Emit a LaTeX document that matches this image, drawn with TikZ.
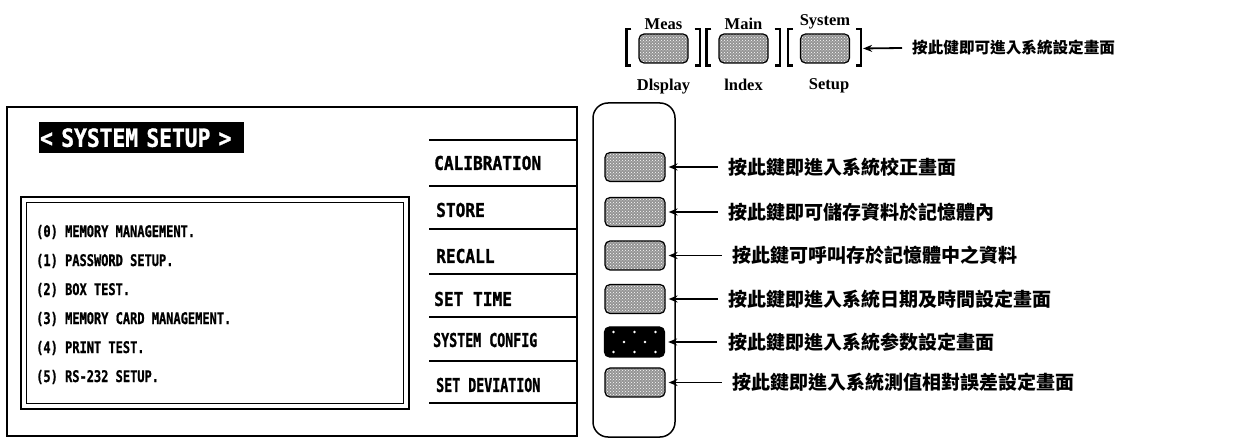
\documentclass[tikz,border=0pt]{standalone}
\usepackage{fontspec}
\setmainfont{Liberation Serif}
\newfontfamily\cjkfont{Noto Sans CJK TC}
\newfontfamily\lcdfont{DejaVu Sans Mono}[FakeStretch=0.85, FakeBold=1.2]
\newfontfamily\lcdnarrow{DejaVu Sans Mono}[FakeStretch=0.7, FakeBold=1.2]
\newfontfamily\lcdsmall{DejaVu Sans Mono}[FakeStretch=0.75, FakeBold=1]
\usetikzlibrary{positioning, arrows.meta, patterns}

\begin{document}
\begin{tikzpicture}[x=1pt, y=-1pt,
    key/.style={draw, line width=1.2pt, rounded corners=5pt,
                minimum width=60pt, minimum height=29pt, inner sep=0pt,
                preaction={fill=black!42}, pattern=crosshatch dots,
                pattern color=white},
    topkey/.style={key, minimum width=49pt},
    blackkey/.style={draw, line width=1.2pt, rounded corners=5pt,
                minimum width=60pt, minimum height=30pt, inner sep=0pt,
                fill=black},
    brk/.style={line width=2.2pt},
    arw/.style={-{Stealth[length=9pt, width=7pt]}, line width=1.8pt},
    note/.style={font=\cjkfont\bfseries\fontsize{19}{19}\selectfont,
                 inner sep=0pt},
    lbl/.style={font=\bfseries\fontsize{16.5}{16.5}\selectfont, inner sep=0pt},
    menu/.style={font=\lcdfont\bfseries\fontsize{19}{19}\selectfont,
                 inner sep=0pt, anchor=west},
    menun/.style={menu, font=\lcdnarrow\bfseries\fontsize{19}{19}\selectfont},
    item/.style={font=\lcdsmall\bfseries\fontsize{16}{16}\selectfont,
                 inner sep=0pt, anchor=west},
]
\useasboundingbox (0,0) rectangle (1251,438);

% Screen
\draw[line width=2.5pt] (7,107) rectangle (577,436);
\node[fill=black, text=white, anchor=north west, minimum height=31pt,
      text width=203pt, inner xsep=1pt, inner ysep=0pt, align=left,
      font=\lcdfont\bfseries\fontsize{25}{25}\selectfont]
      (title) at (39,122) {< SYSTEM SETUP >};
\draw[line width=2.5pt] (21,197) rectangle (409,409);
\draw[line width=1.3pt] (26.5,202.5) rectangle (403.5,403.5);
\node[item] (m0) at (36,232) {(0) MEMORY MANAGEMENT.};
\node[item] (m1) at (36,261) {(1) PASSWORD SETUP.};
\node[item] (m2) at (36,290) {(2) BOX TEST.};
\node[item] (m3) at (36,319) {(3) MEMORY CARD MANAGEMENT.};
\node[item] (m4) at (36,348) {(4) PRINT TEST.};
\node[item] (m5) at (36,377) {(5) RS-232 SETUP.};

% Soft key labels
\foreach \y in {140,186,229,274,317,361,403}
  \draw[line width=1.3pt] (429,\y) -- (577,\y);
\node[menu] (calib) at (434,163) {CALIBRATION};
\node[menu] (store) at (436,210) {STORE};
\node[menu] (recall) at (436,256) {RECALL};
\node[menu] (settime) at (434,299) {SET TIME};
\node[menun] (config) at (433,340) {SYSTEM CONFIG};
\node[menun] (setdev) at (436,385) {SET DEVIATION};

% Soft key panel
\draw[line width=1.5pt, rounded corners=15pt] (593,103) rectangle (675,437);
\foreach \n/\y in {1/167, 2/212, 3/255.5, 4/299, 6/382.5}
  \node[key] (k\n) at (635,\y) {};
\node[blackkey] (k5) at (634.5,342) {};
\foreach \dx/\dy in {-21/10, 0/10, 21/10, -10.5/0, 10.5/0, -21/-10, 0/-10, 21/-10}
  \fill[white] ([xshift=\dx pt, yshift=\dy pt]k5.center) circle (1.3pt);

\node[note, right=63pt of k1] (n1) {按此鍵即進入系統校正畫面};
\node[note, right=63pt of k2] (n2) {按此鍵即可儲存資料於記憶體內};
\node[note, right=67pt of k3] (n3) {按此鍵可呼叫存於記憶體中之資料};
\node[note, right=63pt of k4] (n4) {按此鍵即進入系統日期及時間設定畫面};
\node[note, right=63pt of k5] (n5) {按此鍵即進入系統参数設定畫面};
\node[note, right=67pt of k6] (n6) {按此鍵即進入系統測值相對誤差設定畫面};
\foreach \n in {1,...,6}
  \draw[arw, shorten >=3pt] ([xshift=-11pt]n\n.west) -- (k\n.east);

% Top keys
\node[topkey] (mk1) at (663.5,48.5) {};
\node[topkey] (mk2) at (743.5,48.5) {};
\node[topkey] (mk3) at (825,48.5) {};
\foreach \k in {mk1,mk2,mk3} {
  \draw[brk] ([xshift=-7pt,yshift=4pt]\k.north west)
    -- ([xshift=-12pt,yshift=4pt]\k.north west)
    -- ([xshift=-12pt,yshift=-2pt]\k.south west)
    -- ([xshift=-7pt,yshift=-2pt]\k.south west);
  \draw[brk] ([xshift=6pt,yshift=4pt]\k.north east)
    -- ([xshift=11pt,yshift=4pt]\k.north east)
    -- ([xshift=11pt,yshift=-2pt]\k.south east)
    -- ([xshift=6pt,yshift=-2pt]\k.south east);
}
\node[lbl, above=4pt of mk1] (meas) {Meas};
\node[lbl, below=15pt of mk1, anchor=north] (disp) {Dlsplay};
\node[lbl, above=4pt of mk2] (mainl) {Main};
\node[lbl, below=15pt of mk2, anchor=north] (index) {lndex};
\node[lbl, above=4pt of mk3] (sys) {System};
\node[lbl, below=15pt of mk3, anchor=north, xshift=4pt] (setup) {Setup};

\coordinate (brk3) at ([xshift=11pt]mk3.east);
\node[note, font=\cjkfont\bfseries\fontsize{15.6}{15.6}\selectfont,
      anchor=west] (sysnote) at (912,48) {按此健即可進入系統設定畫面};
\draw[arw, shorten >=2pt] ([xshift=-10pt]sysnote.west) -- (brk3);
\end{tikzpicture}
\end{document}
